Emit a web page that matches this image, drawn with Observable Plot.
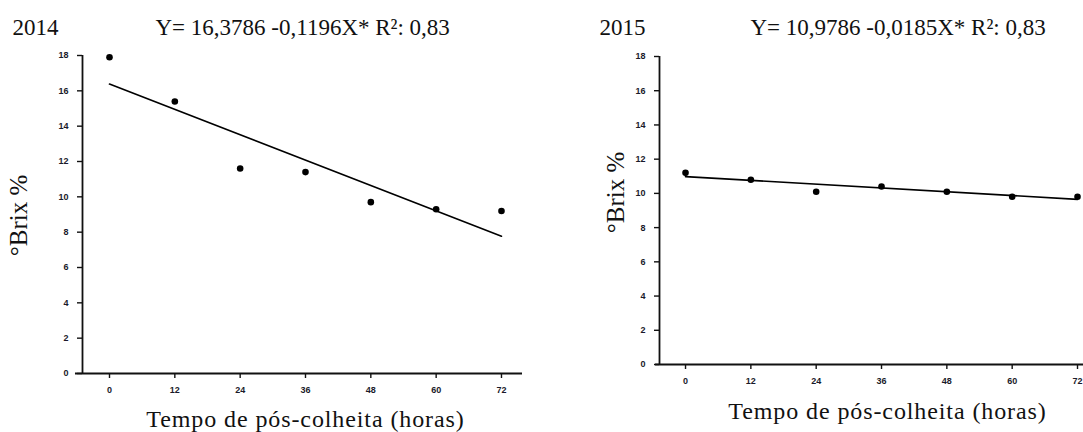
<!DOCTYPE html>
<html><head><meta charset="utf-8">
<script src="https://cdn.jsdelivr.net/npm/d3@7"></script>
<script src="https://cdn.jsdelivr.net/npm/@observablehq/plot@0.6"></script>
<style>
body{margin:0;background:#fff;}
#wrap{position:relative;width:1083px;height:432px;overflow:hidden;background:#fff;}
#left{position:absolute;left:0;top:0;}
#right{position:absolute;left:541px;top:0;}
</style></head><body>
<div id="wrap"><div id="left"></div><div id="right"></div></div>
<script>
const hours = [0, 12, 24, 36, 48, 60, 72];
const brix2014 = [17.9, 15.4, 11.6, 11.4, 9.7, 9.3, 9.2];
const brix2015 = [11.2, 10.8, 10.1, 10.4, 10.1, 9.8, 9.8];
const fitHours = [0, 72];
const fit2014 = [16.38, 7.77];
const fit2015 = [10.98, 9.65];
const yTicks = [0, 2, 4, 6, 8, 10, 12, 14, 16, 18];
const years = ["2014", "2015"];
const equations = ["Y= 16,3786 -0,1196X* R²: 0,83", "Y= 10,9786 -0,0185X* R²: 0,83"];
const yLabel = "°Brix %";
const xLabel = "Tempo de pós-colheita (horas)";

const serif = "'Liberation Serif', 'Times New Roman', serif";
const tickFont = "'Liberation Sans', Arial, sans-serif";

function panel(cfg, values, fit, year, eq) {
  const pts = hours.map((h, i) => ({h, v: values[i]}));
  const line = fitHours.map((h, i) => ({h, v: fit[i]}));
  const txt = {fontFamily: serif, fill: "#111", lineAnchor: "middle"};
  const svg = Plot.plot({
    width: cfg.width, height: 432,
    marginLeft: cfg.ml, marginRight: cfg.mr, marginTop: cfg.mt, marginBottom: cfg.mb,
    x: {domain: cfg.xDomain, axis: null},
    y: {domain: [0, 18], axis: null},
    style: {background: "transparent", overflow: "visible", color: "#1a1a2a"},
    marks: [
      Plot.ruleX([cfg.xDomain[0]], {stroke: "#111", strokeWidth: 1.8}),
      Plot.ruleY([0], {x1: cfg.xDomain[0] - cfg.ext, x2: cfg.xDomain[1], stroke: "#111", strokeWidth: 1.8}),
      Plot.axisY({ticks: yTicks, tickSize: 5, tickPadding: 9, fontSize: 9, fontWeight: "bold", fontFamily: tickFont, strokeWidth: 1.4, stroke: "#111", label: null}),
      Plot.axisX({ticks: hours, tickSize: 5, tickPadding: 8, fontSize: 9, fontWeight: "bold", fontFamily: tickFont, strokeWidth: 1.4, stroke: "#111", label: null}),
      Plot.line(line, {x: "h", y: "v", stroke: "#000", strokeWidth: 1.6}),
      Plot.dot(pts, {x: "h", y: "v", r: 3.3, fill: "#000"}),
      Plot.text([year], {frameAnchor: "top-left", textAnchor: "start", dx: cfg.yearDx, dy: cfg.titleDy, fontSize: 23, ...txt}),
      Plot.text([eq], {frameAnchor: "top-left", textAnchor: "start", dx: cfg.eqDx, dy: cfg.titleDy, fontSize: 23, ...txt}),
      Plot.text([yLabel], {frameAnchor: "left", textAnchor: "middle", rotate: -90, dx: cfg.ylDx, dy: cfg.ylDy, fontSize: 25, ...txt}),
      Plot.text([xLabel], {frameAnchor: "bottom", textAnchor: "middle", dx: cfg.xlDx, dy: cfg.xlDy, fontSize: 24, ...txt})
    ]
  });
  d3.select(svg).selectAll("text").filter(function() { return this.textContent === xLabel; })
    .style("letter-spacing", "0.9px");
  return svg;
}

const leftCfg = {width: 541, ml: 82, mr: 19, mt: 55, mb: 59, xDomain: [-4.96, 75.86], ext: 1.29,
  yearDx: -70, eqDx: 73, titleDy: -27.4, ylDx: -64, ylDy: 1, xlDx: 3, xlDy: 45.5};
const rightCfg = {width: 542, ml: 118, mr: 0, mt: 56, mb: 68, xDomain: [-4.78, 73.1], ext: 0.73,
  yearDx: -60, eqDx: 91, titleDy: -28.4, ylDx: -44, ylDy: -18, xlDx: 16, xlDy: 47};

document.getElementById("left").append(panel(leftCfg, brix2014, fit2014, years[0], equations[0]));
document.getElementById("right").append(panel(rightCfg, brix2015, fit2015, years[1], equations[1]));
</script>
</body></html>
